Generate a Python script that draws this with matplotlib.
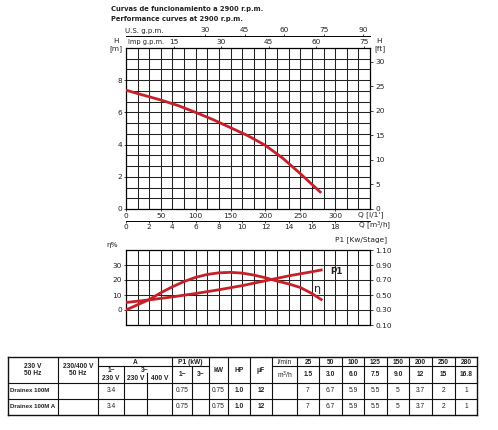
import matplotlib
matplotlib.use('Agg')
import matplotlib.pyplot as plt
import numpy as np
from matplotlib.lines import Line2D

# ---------------- data ----------------
head_q_lmin = [0, 25, 50, 75, 100, 125, 150, 175, 200, 225, 250, 280]
head_m = [7.38, 7.07, 6.77, 6.42, 6.0, 5.55, 5.05, 4.55, 3.95, 3.15, 2.2, 1.0]

eta_q_m3h = [0, 1, 2, 3, 4, 5, 6, 7, 8, 9, 10, 11, 12, 13, 14, 15, 16, 16.8]
eta_pct = [0, 3.5, 7, 11.5, 15.5, 19, 21.8, 23.7, 24.8, 25.1, 24.6, 23.3, 21.5, 19.3, 17.4, 15.0, 11.0, 7.0]

p1_q_m3h = [0, 2, 4, 6, 8, 10, 12, 14, 16, 16.8]
p1_kw = [0.40, 0.435, 0.475, 0.52, 0.57, 0.625, 0.69, 0.755, 0.81, 0.833]

lmin_ticks = [0, 50, 100, 150, 200, 250, 300]
m3h_ticks = [0, 2, 4, 6, 8, 10, 12, 14, 16, 18]
usgpm_ticks = [30, 45, 60, 75, 90]
impgpm_ticks = [15, 30, 45, 60, 75]
h_m_ticks = [0, 2, 4, 6, 8]
h_ft_ticks = [0, 5, 10, 15, 20, 25, 30]
eta_ticks = [0, 10, 20, 30]
p1_ticks = [0.10, 0.30, 0.50, 0.70, 0.90, 1.10]

title_es = "Curvas de funcionamiento a 2900 r.p.m."
title_en = "Performance curves at 2900 r.p.m."

tbl_flow_lmin = ["25", "50", "100", "125", "150", "200", "250", "280"]
tbl_flow_m3h = ["1.5", "3.0", "6.0", "7.5", "9.0", "12", "15", "16.8"]
tbl_models = ["Drainex 100M", "Drainex 100M A"]
tbl_amp_1 = ["3.4", "3.4"]
tbl_p1_1 = ["0.75", "0.75"]
tbl_kw = ["0.75", "0.75"]
tbl_hp = ["1.0", "1.0"]
tbl_uf = ["12", "12"]
tbl_heads = [["7", "6.7", "5.9", "5.5", "5", "3.7", "2", "1"],
             ["7", "6.7", "5.9", "5.5", "5", "3.7", "2", "1"]]

# ---------------- figure ----------------
W, H = 498, 430
fig = plt.figure(figsize=(W / 100, H / 100), dpi=100)
fig.patch.set_facecolor('white')

def fx(x):
    return x / W

def fy(y):
    return 1 - y / H

RED = '#c8202a'
GRID = '#222222'
FS = 5.3
TFONT = ['Liberation Sans', 'DejaVu Sans']

def txt(x, y, s, ha='center', va='center', size=FS, bold=False, family=None, **kw):
    extra = {}
    if family is not None:
        extra['family'] = family
    fig.text(fx(x), fy(y), s, ha=ha, va=va, fontsize=size,
             fontweight='bold' if bold else 'normal', color='#222222', **extra, **kw)

# titles
txt(111, 9, title_es, ha='left', size=4.9, bold=True)
txt(111, 19, title_en, ha='left', size=4.9, bold=True)

# ---------------- upper chart ----------------
L, R, T, B = 126, 370, 48, 209
ax = fig.add_axes([fx(L), fy(B), (R - L) / W, (B - T) / H])
ax.set_xlim(0, 350)
ax.set_ylim(0, 10)
for k in range(1, 21):
    ax.axvline(k * 50 / 3, color=GRID, lw=0.75, zorder=1)
for k in range(1, 15):
    ax.axhline(k * 2 / 3, color=GRID, lw=0.75, zorder=1)
for s in ax.spines.values():
    s.set_linewidth(0.9)
ax.plot(head_q_lmin, head_m, color=RED, lw=2.0, zorder=3, solid_capstyle='butt')

ax.set_xticks(lmin_ticks)
ax.set_yticks(h_m_ticks)
ax.tick_params(axis='both', labelsize=FS, length=1.5, width=0.6, pad=1.5, colors='#222222')

axr = ax.twinx()
axr.set_ylim(0, 10 * 3.28084)
axr.set_yticks(h_ft_ticks)
axr.tick_params(axis='y', labelsize=FS, length=2.5, width=0.6, pad=1.5, colors='#222222')
for s in axr.spines.values():
    s.set_visible(False)

sec = ax.secondary_xaxis(-12 / 161, functions=(lambda q: q * 0.06, lambda m: m / 0.06))
sec.set_xticks(m3h_ticks)
sec.tick_params(labelsize=FS, length=1.5, width=0.6, pad=1.0, colors='#222222')
sec.spines['bottom'].set_linewidth(0.7)

us = ax.secondary_xaxis(1 + 12 / 161, functions=(lambda q: q / 3.785, lambda g: g * 3.785))
us.set_xticks(usgpm_ticks)
us.tick_params(labelsize=FS, length=1.5, width=0.6, pad=0.8, colors='#222222')
us.spines['top'].set_linewidth(0.7)

imp = ax.secondary_xaxis('top', functions=(lambda q: q / 4.546, lambda g: g * 4.546))
imp.set_xticks(impgpm_ticks)
imp.tick_params(labelsize=FS, length=1.5, width=0.6, pad=0.5, colors='#222222')
imp.spines['top'].set_visible(False)

txt(125, 31, "U.S. g.p.m.", ha='left', size=5.0)
txt(128, 42, "Imp g.p.m.", ha='left', size=4.8)
txt(116, 41, "H")
txt(116, 49, "[m]")
txt(379, 41, "H")
txt(380, 49, "[ft]")
txt(358, 215, "Q [l/1']", ha='left')
txt(358, 226, "Q [m$^3$/h]", ha='left')

# ---------------- lower chart ----------------
T2, B2 = 250, 325
ax2 = fig.add_axes([fx(L), fy(B2), (R - L) / W, (B2 - T2) / H])
ax2.set_xlim(0, 21)
ax2.set_ylim(-10, 40)
for k in range(1, 21):
    ax2.axvline(k, color=GRID, lw=0.75, zorder=1)
for v in eta_ticks:
    ax2.axhline(v, color=GRID, lw=0.75, zorder=1)
for s in ax2.spines.values():
    s.set_linewidth(0.9)
ax2.set_xticks([])
ax2.set_yticks(eta_ticks)
ax2.tick_params(axis='y', labelsize=FS, length=1.5, width=0.6, pad=1.5, colors='#222222')
ax2.plot(eta_q_m3h, eta_pct, color=RED, lw=2.0, zorder=3)

ax2r = ax2.twinx()
ax2r.set_ylim(0.1, 1.1)
ax2r.set_yticks(p1_ticks)
ax2r.set_yticklabels([f"{v:.2f}" for v in p1_ticks])
ax2r.tick_params(axis='y', labelsize=FS, length=2.5, width=0.6, pad=1.5, colors='#222222')
for s in ax2r.spines.values():
    s.set_visible(False)
ax2r.plot(p1_q_m3h, p1_kw, color=RED, lw=2.0, zorder=3)

txt(112, 245, "η%")
txt(361, 240, "P1 [Kw/Stage]")
txt(330, 271, "P1", ha='left', size=6.3, bold=True)
txt(318, 289, "η", ha='center', size=8)

# ---------------- table ----------------
def hline(y, x0, x1, lw=0.8):
    fig.add_artist(Line2D([fx(x0), fx(x1)], [fy(y), fy(y)], color='#111111', lw=lw,
                          transform=fig.transFigure))

def vline(x, y0, y1, lw=0.8):
    fig.add_artist(Line2D([fx(x), fx(x)], [fy(y0), fy(y1)], color='#111111', lw=lw,
                          transform=fig.transFigure))

TT, TH1, TH2, TH, TR1, TB = 357, 366, 373, 383, 399, 415
XL, XR = 8, 477
cols = [58, 98, 172, 209, 228, 250, 272, 297, 319, 342, 364, 387, 409, 432, 455]

hline(TT, XL, XR, 1.0)
hline(TB, XL, XR, 1.0)
vline(XL, TT, TB, 1.0)
vline(XR, TT, TB, 1.0)
hline(TH, XL, XR)
hline(TR1, XL, XR)
hline(TH1, 98, 209)
hline(TH1, 272, XR)
for c in cols:
    vline(c, TT, TB)
vline(124, TH1, TB)
vline(147, TH2, TB)
vline(192, TH1, TB)

TS = 4.8

def tt(x, y, s, ha='center', bold=False, size=TS):
    txt(x, y, s, ha=ha, size=size, bold=bold, family=TFONT)

tt(33, 366, "230 V", bold=True)
tt(33, 373.5, "50 Hz", bold=True)
tt(78, 366, "230/400 V", bold=True)
tt(78, 373.5, "50 Hz", bold=True)
tt(135, 362, "A", bold=True)
tt(111, 370, "1~", bold=True)
tt(111, 378.5, "230 V", bold=True)
tt(145, 370, "3~", bold=True)
tt(135.5, 378.5, "230 V", bold=True)
tt(160, 378.5, "400 V", bold=True)
tt(190.5, 362, "P1 (kW)", bold=True)
tt(182, 375, "1~", bold=True)
tt(200.5, 375, "3~", bold=True)
tt(218.5, 370.5, "kW", bold=True)
tt(239, 370.5, "HP", bold=True)
tt(261, 370.5, "μF", bold=True)
tt(284.5, 362, "l/min")
tt(284.5, 375, "m$^3$/h")

flow_centers = [(cols[i] + (cols[i + 1] if i + 1 < len(cols) else XR)) / 2 for i in range(7, len(cols))]
for i, c in enumerate(flow_centers):
    tt(c, 362, tbl_flow_lmin[i], bold=True)
    tt(c, 375, tbl_flow_m3h[i], bold=True)

row_y = [391, 407]
for r in range(2):
    y = row_y[r]
    tt(10, y, tbl_models[r], ha='left', bold=True, size=4.4)
    tt(111, y, tbl_amp_1[r])
    tt(182, y, tbl_p1_1[r])
    tt(218.5, y, tbl_kw[r])
    tt(239, y, tbl_hp[r], bold=True)
    tt(261, y, tbl_uf[r], bold=True)
    for i, c in enumerate(flow_centers):
        tt(c, y, tbl_heads[r][i])

fig.savefig('out.png', dpi=100, facecolor='white')
